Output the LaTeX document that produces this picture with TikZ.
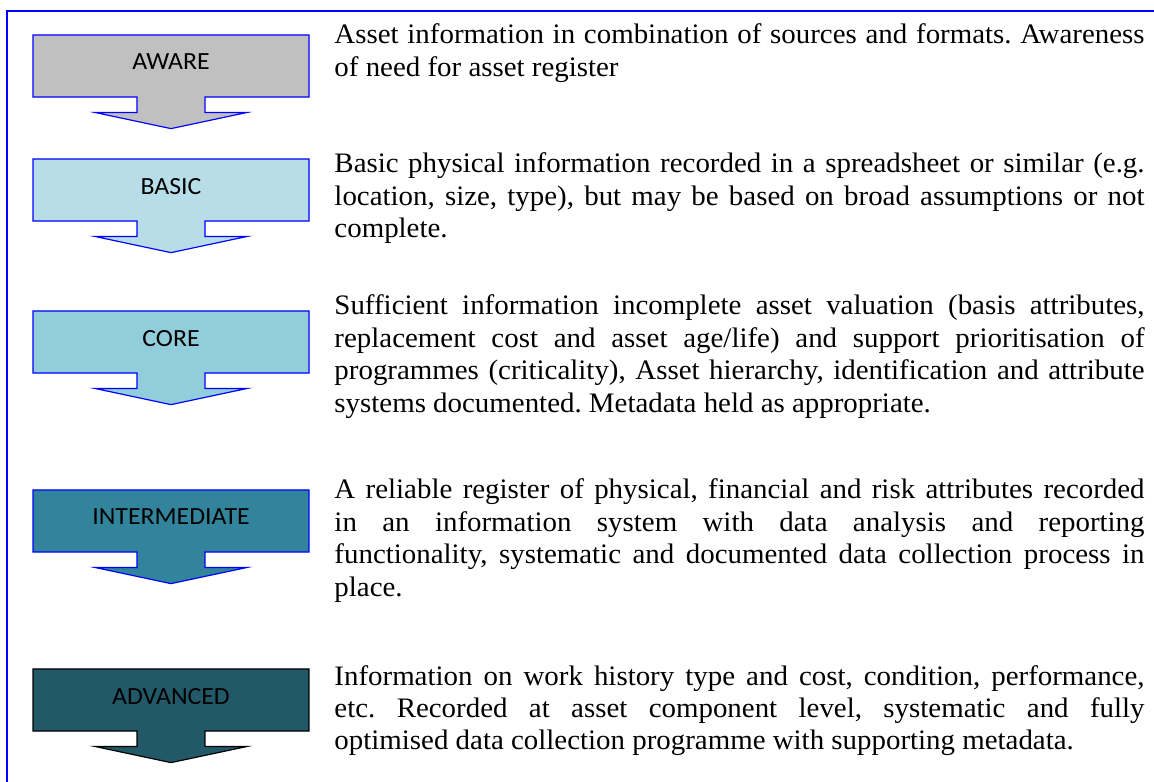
\documentclass[tikz,border=0pt]{standalone}
\usepackage{fontspec}
\setmainfont{Liberation Serif}[FakeStretch=1.025]
\newfontfamily\levelfont{Carlito}[FakeStretch=1.045]
\usetikzlibrary{shapes.arrows}
\hyphenpenalty=10000
\frenchspacing

\definecolor{awaregrey}{HTML}{C0C0C0}
\definecolor{basicblue}{HTML}{B7DEE8}
\definecolor{coreblue}{HTML}{92CDDC}
\definecolor{interteal}{HTML}{31849B}
\definecolor{advteal}{HTML}{215968}

\begin{document}
\begin{tikzpicture}[x=0.4255pt, y=-0.4255pt,
    level/.style={arrow box, draw=blue, line width=0.5pt, inner sep=0pt,
        minimum width=117.4pt, minimum height=26.4pt, text depth=3.4pt,
        arrow box arrows={south:13.2pt from border},
        arrow box shaft width=28.9pt, arrow box head extend=17.9pt,
        arrow box head indent=0pt, arrow box tip angle=156,
        font=\levelfont\fontsize{10.5}{12}\selectfont},
    desc/.style={anchor=base west, inner sep=0pt, text width=344.7pt, align=justify,
        font=\fontsize{12}{13.8}\selectfont}]
    \useasboundingbox (0,0) rectangle (1154,782);
    % outer frame, only the top and left edges fall on the page
    \draw[blue, line width=0.9pt] (7,782) -- (7,11) -- (1154,11);
    % the five maturity levels
    \foreach \name/\lbl/\col/\edge/\y in {aware/AWARE/awaregrey/blue/66,
            basic/BASIC/basicblue/blue/190, core/CORE/coreblue/blue/342,
            inter/INTERMEDIATE/interteal/blue/521, adv/ADVANCED/advteal/black/700} {
        \node[level, fill=\col, draw=\edge] (\name) at (171,\y) {\lbl};
    }
    \node[desc] (awaretxt) at (334,44) {Asset information in combination of sources and formats. Awareness\linebreak
        of need for asset register};
    \node[desc] (basictxt) at (334,173) {Basic physical information recorded in a spreadsheet or similar (e.g.\linebreak
        location, size, type), but may be based on broad assumptions or not\linebreak
        complete.};
    \node[desc] (coretxt) at (334,315) {Sufficient information incomplete asset valuation (basis attributes,\linebreak
        replacement cost and asset age/life) and support prioritisation of\linebreak
        programmes (criticality), Asset hierarchy, identification and attribute\linebreak
        systems documented. Metadata held as appropriate.};
    \node[desc] (intertxt) at (334,499) {A reliable register of physical, financial and risk attributes recorded\linebreak
        in an information system with data analysis and reporting\linebreak
        functionality, systematic and documented data collection process in\linebreak
        place.};
    \node[desc] (advtxt) at (334,685) {Information on work history type and cost, condition, performance,\linebreak
        etc. Recorded at asset component level, systematic and fully\linebreak
        optimised data collection programme with supporting metadata.};
\end{tikzpicture}
\end{document}
